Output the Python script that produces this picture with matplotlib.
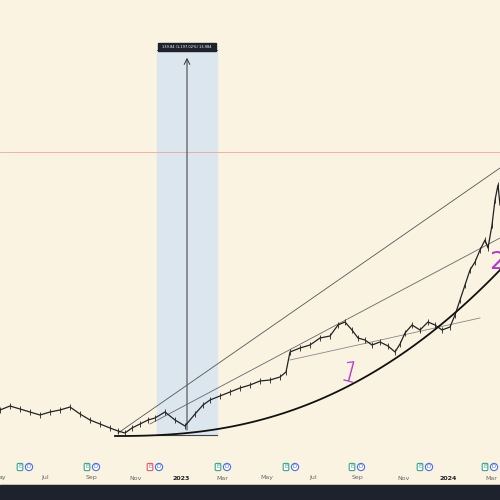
import numpy as np
import matplotlib
matplotlib.use("Agg")
import matplotlib.pyplot as plt
from matplotlib.patches import Rectangle, FancyBboxPatch

BG = "#fbf3e2"

# price path (x = time position, y = screen level)
px = [0, 10, 20, 30, 40, 50, 60, 70, 80, 90, 100, 110, 118, 125, 132, 140, 148, 155, 165, 175,
      185, 195, 203, 210, 220, 230, 240, 250, 260, 270, 280, 286, 290, 300, 310, 320, 330, 338,
      345, 352, 358, 365, 372, 380, 388, 395, 400, 405, 412, 420, 428, 435, 442, 450, 455, 460,
      465, 470, 475, 480, 485, 488, 492, 495, 498, 500]
py = [410, 406, 409, 412, 415, 412, 410, 407, 414, 420, 424, 428, 431, 433, 428, 424, 420, 418,
      412, 420, 426, 414, 405, 400, 396, 392, 388, 385, 381, 380, 377, 372, 352, 348, 345, 338,
      336, 325, 322, 330, 338, 340, 345, 342, 346, 352, 344, 333, 325, 330, 322, 325, 330, 327,
      315, 300, 285, 270, 262, 250, 240, 248, 225, 200, 185, 205]

months = ["ay", "Jul", "Sep", "Nov", "2023", "Mar", "May", "Jul", "Sep", "Nov", "2024", "Mar"]
month_x = [2, 45, 91, 136, 181, 222, 267, 313, 358, 404, 448, 491]
badge_x = [20, 87, 150, 218, 286, 352, 420, 485]

fig = plt.figure(figsize=(5, 5), dpi=100)
ax = fig.add_axes([0, 0, 1, 1])
ax.set_xlim(0, 500)
ax.set_ylim(500, 0)
ax.axis("off")
fig.patch.set_facecolor(BG)

# measurement box
ax.add_patch(Rectangle((157, 50), 60, 385, color="#dbe6ee", zorder=1))
ax.plot([157, 217], [50, 50], color="#444", lw=0.6, zorder=2)
ax.plot([157, 217], [435, 435], color="#444", lw=0.8, zorder=2)
ax.annotate("", xy=(187, 55), xytext=(187, 433),
            arrowprops=dict(arrowstyle="->", color="#333", lw=0.7), zorder=3)
ax.add_patch(Rectangle((158, 43), 58, 8, color="#1e222d", zorder=4))
ax.text(187, 47, "139.84 (1,197.02%) 13,984", color="white", fontsize=2.6,
        ha="center", va="center", zorder=5)

# red horizontal level
ax.axhline(152, color="#e8a99b", lw=0.6, zorder=1)

# price (jagged candle-like line)
xs = np.array(px, float)
ys = np.array(py, float)
ax.plot(xs, ys, color="#222", lw=0.9, zorder=5)
ax.vlines(xs, ys - 3, ys + 3, color="#222", lw=0.6, zorder=5)

# trend lines
ax.plot([118, 500], [433, 168], color="#555", lw=0.6, zorder=4)
ax.plot([150, 500], [424, 238], color="#666", lw=0.6, zorder=4)
ax.plot([290, 480], [360, 318], color="#888", lw=0.6, zorder=4)

# curved support
cx = np.linspace(115, 500, 100)
t = (cx - 115) / 385
cy = 436 - 166 * t ** 2.4
ax.plot(cx, cy, color="#111", lw=1.3, zorder=6)

# hand annotations
ax.text(350, 375, "1", color="#b03ac8", fontsize=20, rotation=-15,
        ha="center", va="center", family="DejaVu Sans", fontweight="light", zorder=7)
ax.text(497, 262, "2", color="#b03ac8", fontsize=18, ha="center", va="center", zorder=7)

# bottom axis
ax.plot([0, 500], [484, 484], color="#e8e0cc", lw=0.6)
for x, m in zip(month_x, months):
    bold = m.isdigit()
    ax.text(x, 478, m, fontsize=4.5, ha="center", va="center",
            color="#222" if bold else "#666", fontweight="bold" if bold else "normal")
for i, x in enumerate(badge_x):
    ec = "#e05a5a" if i == 2 else "#3aa58a"
    ax.text(x, 467, "E", fontsize=4, ha="center", va="center", color=ec,
            bbox=dict(boxstyle="round,pad=0.2", fc="white", ec=ec, lw=0.8))
    ax.text(x + 9, 467, "D", fontsize=4, ha="center", va="center", color="#4a6fe0",
            bbox=dict(boxstyle="circle,pad=0.2", fc="white", ec="#4a6fe0", lw=0.8))
ax.add_patch(Rectangle((0, 485), 500, 15, color="#1e222d", zorder=8))

fig.savefig("out.png", dpi=100, facecolor=BG)
